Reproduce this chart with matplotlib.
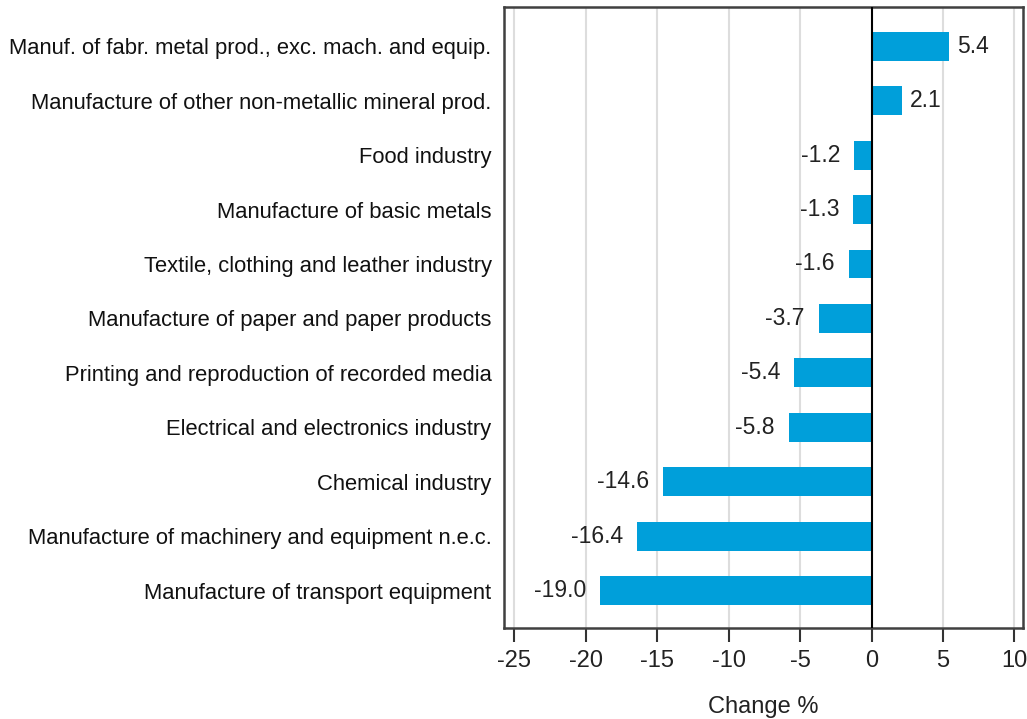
import matplotlib.pyplot as plt
import numpy as np

plt.rcParams['font.family'] = ['Liberation Sans', 'DejaVu Sans']

# Data, top to bottom as in the picture
industries = [
    'Manuf. of fabr. metal prod., exc. mach. and equip.',
    'Manufacture of other non-metallic mineral prod.',
    'Food industry',
    'Manufacture of basic metals',
    'Textile, clothing and leather industry',
    'Manufacture of paper and paper products',
    'Printing and reproduction of recorded media',
    'Electrical and electronics industry',
    'Chemical industry',
    'Manufacture of machinery and equipment n.e.c.',
    'Manufacture of transport equipment',
]
change = [5.4, 2.1, -1.2, -1.3, -1.6, -3.7, -5.4, -5.8, -14.6, -16.4, -19.0]
xticks = [-25, -20, -15, -10, -5, 0, 5, 10]

fig = plt.figure(figsize=(10.27, 7.19), dpi=100)
ax = fig.add_axes([0.4908, 0.127, 0.5053, 0.8633])

ypos = np.arange(len(industries))[::-1]
ax.barh(ypos, change, height=0.53, color='#009fda', zorder=3)

# value labels next to the bar ends
for y, v in zip(ypos, change):
    if v >= 0:
        ax.annotate('%.1f' % v, (v, y), xytext=(6, 0), textcoords='offset points',
                    ha='left', va='center', fontsize=16.5, color='#222222')
    else:
        ax.annotate('%.1f' % v, (v, y), xytext=(-10, 0), textcoords='offset points',
                    ha='right', va='center', fontsize=16.5, color='#222222')

ax.set_xlim(-25.72, 10.6)
ax.set_ylim(-0.68, 10.72)
ax.set_xticks(xticks)
ax.set_xticklabels([str(t) for t in xticks], fontsize=17, color='#222222')
ax.set_yticks(ypos)
ax.set_yticklabels(industries, fontsize=15.8, color='#111111')
ax.tick_params(axis='y', length=0, pad=9)
ax.tick_params(axis='x', length=10, width=1.5, color='#333333', pad=6)

for t in xticks:
    if t != 0:
        ax.axvline(t, color='#dddddd', lw=1.5, zorder=1)
ax.axvline(0, color='black', lw=1.5, zorder=4)

for s in ax.spines.values():
    s.set_color('#404040')
    s.set_linewidth(1.8)

ax.set_xlabel('Change %', fontsize=17, color='#222222', labelpad=17)

fig.savefig('out.png', dpi=100)
